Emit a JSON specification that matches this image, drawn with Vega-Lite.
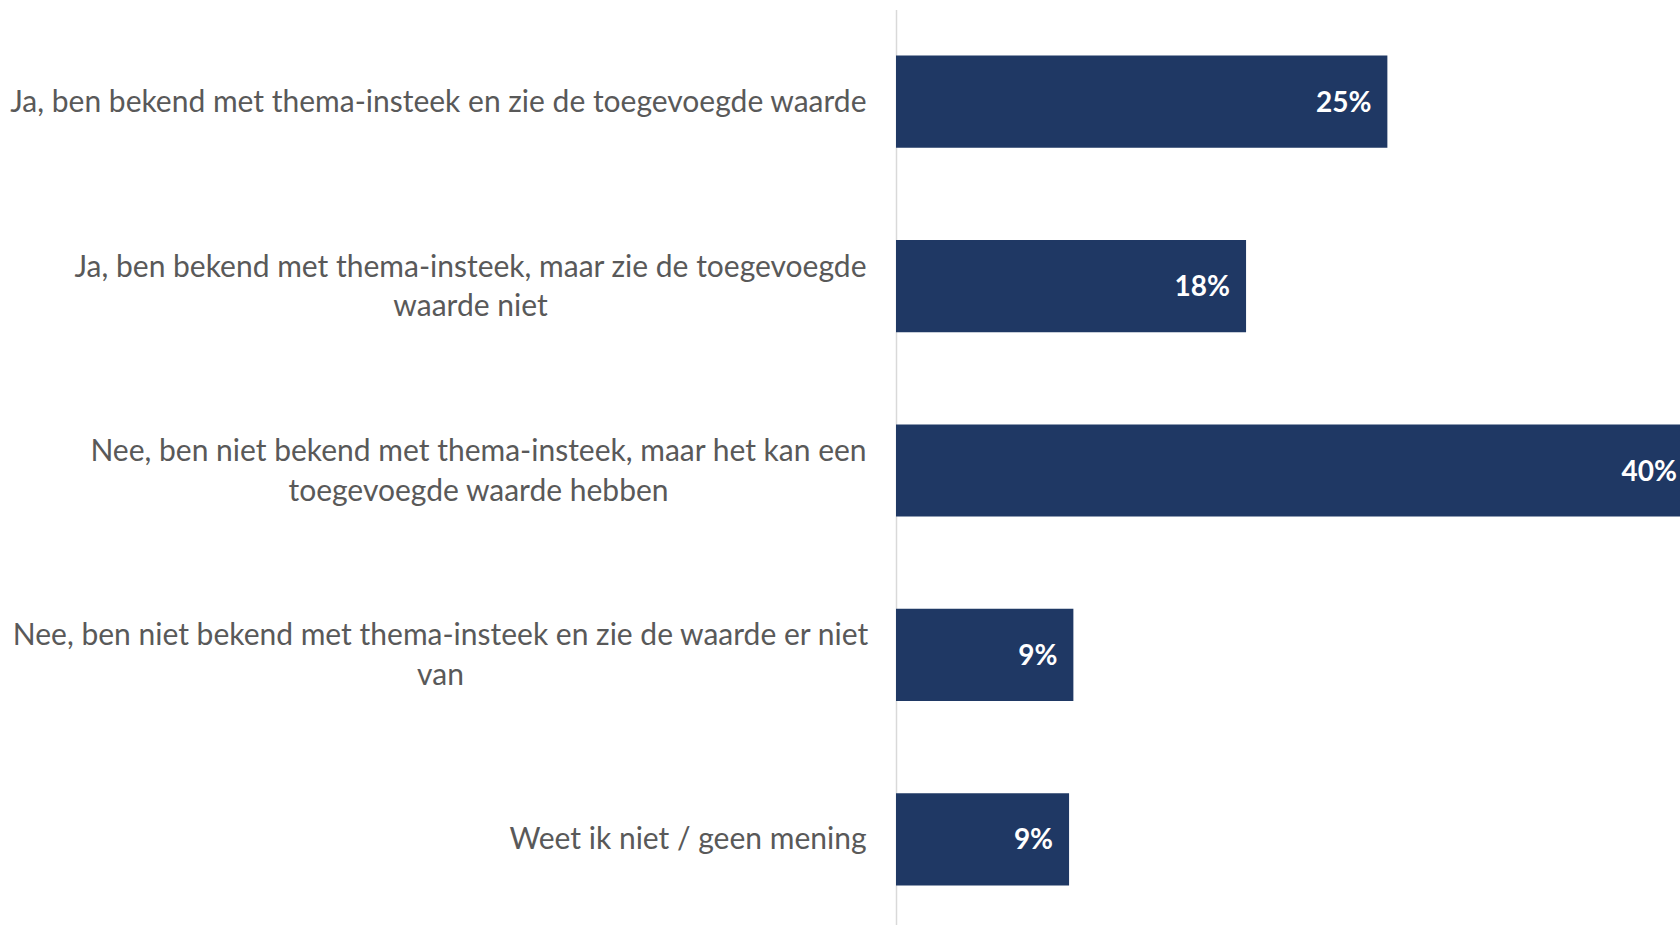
{
  "$schema": "https://vega.github.io/schema/vega-lite/v6.json",
  "autosize": {"type": "none"},
  "padding": {"left": 896, "top": 9.5, "right": 0, "bottom": 0},
  "width": 784,
  "height": 922,
  "background": "white",
  "data": {
    "values": [
      {"answer": "Ja, ben bekend met thema-insteek en zie de toegevoegde waarde", "value": 25.07, "label": "25%"},
      {"answer": "Ja, ben bekend met thema-insteek, maar zie de toegevoegde|waarde niet", "value": 17.86, "label": "18%"},
      {"answer": "Nee, ben niet bekend met thema-insteek, maar het kan een|toegevoegde waarde hebben", "value": 40.66, "label": "40%"},
      {"answer": "Nee, ben niet bekend met thema-insteek en zie de waarde er niet|van", "value": 9.05, "label": "9%"},
      {"answer": "Weet ik niet / geen mening", "value": 8.83, "label": "9%"}
    ]
  },
  "encoding": {
    "y": {
      "field": "answer",
      "type": "nominal",
      "sort": null,
      "scale": {"paddingInner": 0.5, "paddingOuter": 0.25},
      "axis": {
        "title": null,
        "domain": true,
        "domainColor": "#d9d9d9",
        "domainWidth": 1.5,
        "ticks": false,
        "labelFont": "Lato",
        "labelFontSize": 30,
        "labelColor": "#595959",
        "labelLineHeight": 39.5,
        "labelLimit": 0,
        "labelExpr": "split(datum.value, '|')",
        "labelAlign": {
          "condition": [
            {"test": "datum.value == 'Ja, ben bekend met thema-insteek, maar zie de toegevoegde|waarde niet'", "value": "center"},
            {"test": "datum.value == 'Nee, ben niet bekend met thema-insteek, maar het kan een|toegevoegde waarde hebben'", "value": "center"},
            {"test": "datum.value == 'Nee, ben niet bekend met thema-insteek en zie de waarde er niet|van'", "value": "center"}
          ],
          "value": "right"
        },
        "labelOffset": {
          "condition": [
            {"test": "datum.value == 'Ja, ben bekend met thema-insteek, maar zie de toegevoegde|waarde niet'", "value": -18.5},
            {"test": "datum.value == 'Nee, ben niet bekend met thema-insteek, maar het kan een|toegevoegde waarde hebben'", "value": -18.5},
            {"test": "datum.value == 'Nee, ben niet bekend met thema-insteek en zie de waarde er niet|van'", "value": -18.5}
          ],
          "value": 1
        },
        "labelPadding": {
          "condition": [
            {"test": "datum.value == 'Ja, ben bekend met thema-insteek, maar zie de toegevoegde|waarde niet'", "value": 426},
            {"test": "datum.value == 'Nee, ben niet bekend met thema-insteek, maar het kan een|toegevoegde waarde hebben'", "value": 418},
            {"test": "datum.value == 'Nee, ben niet bekend met thema-insteek en zie de waarde er niet|van'", "value": 456}
          ],
          "value": 30
        }
      }
    },
    "x": {
      "field": "value",
      "type": "quantitative",
      "scale": {"domain": [0, 40], "nice": false, "zero": true},
      "axis": null
    }
  },
  "layer": [
    {"mark": {"type": "bar", "color": "#1F3864", "clip": true}},
    {
      "mark": {"type": "text", "align": "right", "baseline": "middle", "dx": -16, "dy": 2, "font": "Lato", "fontSize": 28, "fontWeight": "bold", "color": "white"},
      "encoding": {"text": {"field": "label"}}
    }
  ],
  "config": {"view": {"stroke": null}}
}
